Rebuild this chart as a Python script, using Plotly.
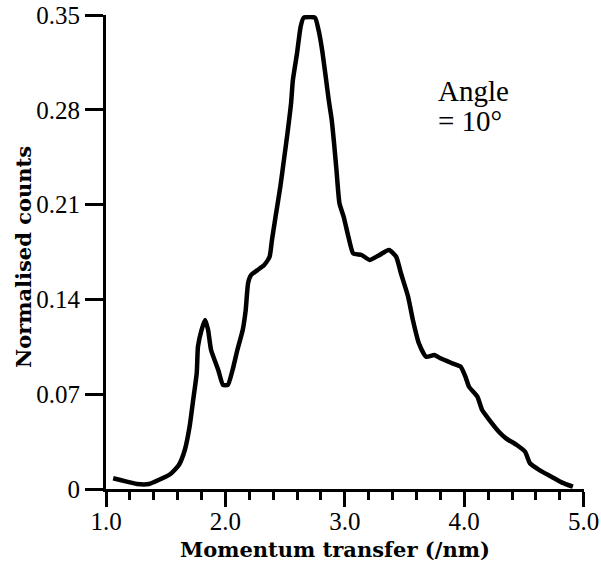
import plotly.graph_objects as go

momentum = [1.06, 1.12, 1.21, 1.26, 1.36, 1.44, 1.54, 1.61, 1.66, 1.70,
            1.73, 1.76, 1.77, 1.80, 1.83, 1.855, 1.88, 1.94, 1.98, 2.02,
            2.06, 2.10, 2.145, 2.17, 2.19, 2.215, 2.27, 2.325, 2.37, 2.39,
            2.42, 2.46, 2.49, 2.52, 2.55, 2.565, 2.60, 2.63, 2.655, 2.75,
            2.78, 2.81, 2.84, 2.865, 2.89, 2.91, 2.93, 2.955, 2.99, 3.03,
            3.07, 3.14, 3.21, 3.29, 3.37, 3.43, 3.47, 3.53, 3.57, 3.62,
            3.68, 3.75, 3.80, 3.90, 3.97, 4.01, 4.04, 4.11, 4.15, 4.20,
            4.29, 4.35, 4.44, 4.51, 4.55, 4.63, 4.73, 4.82, 4.91]
counts = [0.0079, 0.0066, 0.0047, 0.0037, 0.0037, 0.0066, 0.0111, 0.0177, 0.0288, 0.046,
          0.0657, 0.0857, 0.1051, 0.1174, 0.1248, 0.1174, 0.1026, 0.0879, 0.0768, 0.0768,
          0.0879, 0.1026, 0.1174, 0.1322, 0.1521, 0.158, 0.1617, 0.1654, 0.1715, 0.1839,
          0.2011, 0.2232, 0.2429, 0.2629, 0.285, 0.302, 0.3219, 0.3414, 0.348, 0.348,
          0.3389, 0.3241, 0.3044, 0.2874, 0.2727, 0.2553, 0.2356, 0.211, 0.2011, 0.1863,
          0.174, 0.1728, 0.1691, 0.1728, 0.1765, 0.1715, 0.1593, 0.142, 0.1248, 0.1076,
          0.0977, 0.0989, 0.0965, 0.0928, 0.0903, 0.0829, 0.0755, 0.0682, 0.0583, 0.0522,
          0.0423, 0.0374, 0.0325, 0.0275, 0.019, 0.014, 0.0091, 0.0047, 0.0017]

y_tickvals = [0, 0.07, 0.14, 0.21, 0.28, 0.35]
y_ticktext = ["0", "0.07", "0.14", "0.21", "0.28", "0.35"]
x_tickvals = [1.0, 2.0, 3.0, 4.0, 5.0]
x_ticktext = ["1.0", "2.0", "3.0", "4.0", "5.0"]

fig = go.Figure()
fig.add_trace(go.Scatter(x=momentum, y=counts, mode="lines",
                         line=dict(color="black", width=4.5, shape="spline", smoothing=0.5),
                         showlegend=False))

fig.update_layout(
    width=601, height=575,
    margin=dict(l=106, r=17, t=15, b=86),
    paper_bgcolor="white", plot_bgcolor="white",
    xaxis=dict(range=[1.0, 5.003], tickvals=x_tickvals, ticktext=x_ticktext,
               ticks="outside", ticklen=15, tickwidth=3, tickcolor="black",
               showline=True, linecolor="black", linewidth=3,
               showgrid=False, zeroline=False, ticklabelstandoff=-7,
               ticklabeloverflow="allow", automargin=False,
               tickfont=dict(family="Liberation Serif", size=25, color="black"),
               minor=dict(dtick=0.2, tick0=1.0, ticks="outside", ticklen=8,
                          tickwidth=3, tickcolor="black", showgrid=False)),
    yaxis=dict(range=[0, 0.35], tickvals=y_tickvals, ticktext=y_ticktext,
               ticks="outside", ticklen=18, tickwidth=3, tickcolor="black",
               showline=True, linecolor="black", linewidth=3,
               showgrid=False, zeroline=False, automargin=False,
               tickfont=dict(family="Liberation Serif", size=25, color="black")),
    annotations=[
        dict(text="<b>Momentum transfer (/nm)</b>", xref="paper", yref="paper",
             x=0.48, y=-0.128, xanchor="center", yanchor="middle", showarrow=False,
             font=dict(family="DejaVu Serif", size=21, color="black")),
        dict(text="<b>Normalised counts</b>", xref="paper", yref="paper",
             x=-0.174, y=0.489, xanchor="center", yanchor="middle", showarrow=False,
             textangle=-90,
             font=dict(family="DejaVu Serif", size=21, color="black")),
        dict(text="Angle", xref="paper", yref="paper",
             x=0.69, y=0.878, xanchor="left", yanchor="top", showarrow=False,
             font=dict(family="Liberation Serif", size=29, color="black")),
        dict(text="= 10\u00b0", xref="paper", yref="paper",
             x=0.69, y=0.814, xanchor="left", yanchor="top", showarrow=False,
             font=dict(family="Liberation Serif", size=29, color="black")),
    ],
)

fig.write_html("out.html")
